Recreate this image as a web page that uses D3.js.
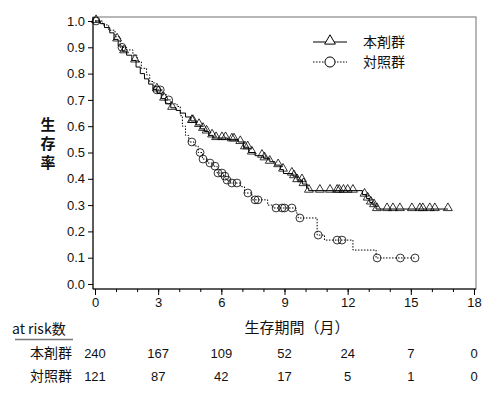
<!DOCTYPE html>
<html lang="ja">
<head>
<meta charset="UTF-8">
<script src="https://d3js.org/d3.v7.min.js"></script>
<style>
  body { margin: 0; background: #fff; }
  text { font-family: "Liberation Sans", Arial, sans-serif; fill: #111; }
  .jp { font-family: "Noto Sans CJK JP", sans-serif; }
</style>
</head>
<body>
<script>
// step points [month, survival after the step]
var drugSteps = [
  [0, 1.0], [0.25, 0.99], [0.45, 0.975], [0.7, 0.955], [0.9, 0.93], [1.1, 0.905],
  [1.3, 0.885], [1.5, 0.87], [1.75, 0.85], [1.95, 0.825], [2.15, 0.80], [2.35, 0.78],
  [2.55, 0.76], [2.75, 0.74], [2.95, 0.725], [3.15, 0.705], [3.35, 0.685], [3.6, 0.67],
  [3.85, 0.66], [4.05, 0.65], [4.3, 0.635], [4.55, 0.62], [4.8, 0.605], [5.0, 0.59],
  [5.2, 0.58], [5.4, 0.565], [5.6, 0.555], [6.3, 0.55], [6.8, 0.54], [7.05, 0.52],
  [7.3, 0.50], [7.6, 0.488], [8.0, 0.478], [8.3, 0.465], [8.55, 0.452], [8.8, 0.435],
  [8.95, 0.42], [9.4, 0.41], [9.6, 0.395], [9.85, 0.38], [10.05, 0.365], [10.15, 0.355],
  [12.7, 0.34], [12.9, 0.325], [13.05, 0.31], [13.2, 0.30], [13.35, 0.285], [16.76, 0.285]
];
var drugCensor = [
  0.05, 1.05, 1.38, 1.9, 2.94, 3.28, 3.66, 4.6, 4.65, 4.94, 5.13, 5.3, 5.56, 5.75,
  6.03, 6.2, 6.5, 6.6, 6.9, 7.12, 7.25, 7.45, 7.93, 8.05, 8.3, 8.7, 8.93, 9.35, 9.45,
  9.6, 9.83, 9.9, 10.16, 10.68, 11.16, 11.5, 11.6, 11.8, 12.0, 12.25, 12.8, 12.95,
  13.1, 13.25, 13.39, 13.87, 14.15, 14.48, 15.05, 15.43, 15.57, 15.9, 16.14, 16.76
];
var ctrlSteps = [
  [0, 1.0], [0.35, 0.985], [0.65, 0.965], [0.95, 0.94], [1.2, 0.9], [1.5, 0.89],
  [1.8, 0.87], [2.0, 0.845], [2.2, 0.82], [2.45, 0.795], [2.6, 0.77], [2.8, 0.75],
  [2.92, 0.738], [3.2, 0.72], [3.4, 0.70], [3.6, 0.685], [3.9, 0.675], [4.05, 0.64],
  [4.15, 0.60], [4.3, 0.565], [4.45, 0.54], [4.7, 0.525], [4.9, 0.50], [5.1, 0.475],
  [5.35, 0.46], [5.6, 0.448], [5.8, 0.422], [6.1, 0.41], [6.22, 0.395], [6.4, 0.384],
  [6.9, 0.37], [7.1, 0.346], [7.45, 0.32], [8.2, 0.30], [8.45, 0.289], [9.55, 0.27],
  [9.65, 0.251], [10.55, 0.186], [10.9, 0.167], [12.25, 0.129], [13.35, 0.099], [15.2, 0.099]
];
var ctrlCensor = [
  0.05, 1.28, 2.94, 3.1, 3.5, 4.6, 4.99, 5.13, 5.46, 5.7, 5.84, 6.03, 6.17, 6.27,
  6.5, 6.74, 7.26, 7.6, 7.74, 8.6, 8.88, 9.0, 9.35, 9.73, 10.6, 11.5, 11.73, 13.4, 14.5, 15.2
];

var groups = ["本剤群", "対照群"];
var riskTimes = [0, 3, 6, 9, 12, 15, 18];
var riskDrug = [240, 167, 109, 52, 24, 7, 0];
var riskCtrl = [121, 87, 42, 17, 5, 1, 0];
var xTicks = [0, 3, 6, 9, 12, 15, 18];
var yTicks = [0, 0.1, 0.2, 0.3, 0.4, 0.5, 0.6, 0.7, 0.8, 0.9, 1.0];

var W = 497, H = 398;
var svg = d3.select("body").append("svg").attr("width", W).attr("height", H);

var x = d3.scaleLinear().domain([0, 18]).range([95, 474]);
var y = d3.scaleLinear().domain([0, 1]).range([284, 21]);
var frame = {l: 93, t: 17, r: 476, b: 289};

// frame
svg.append("rect")
  .attr("x", frame.l).attr("y", frame.t)
  .attr("width", frame.r - frame.l).attr("height", frame.b - frame.t)
  .attr("fill", "none").attr("stroke", "#888").attr("stroke-width", 1.2);
svg.append("line").attr("x1", frame.l).attr("x2", frame.l).attr("y1", frame.t).attr("y2", frame.b)
  .attr("stroke", "#000");
svg.append("line").attr("x1", frame.l).attr("x2", frame.r).attr("y1", frame.b).attr("y2", frame.b)
  .attr("stroke", "#000");

// y axis
var yAxis = svg.append("g").attr("transform", "translate(" + frame.l + ",0)")
  .call(d3.axisLeft(y).tickValues(yTicks).tickFormat(d3.format(".1f")).tickSize(5).tickPadding(3));
yAxis.select(".domain").remove();
yAxis.selectAll("text").style("font-size", "13px");

// x axis, minor then major
var xMinor = svg.append("g").attr("transform", "translate(0," + frame.b + ")")
  .call(d3.axisBottom(x).tickValues(d3.range(0, 19)).tickFormat("").tickSize(3));
xMinor.select(".domain").remove();
var xAxis = svg.append("g").attr("transform", "translate(0," + frame.b + ")")
  .call(d3.axisBottom(x).tickValues(xTicks).tickSize(6).tickPadding(3));
xAxis.select(".domain").remove();
xAxis.selectAll("text").style("font-size", "13px");

// titles
svg.append("text").attr("class", "jp")
  .attr("x", 297).attr("y", 333).attr("text-anchor", "middle")
  .style("font-size", "15px").text("生存期間（月）");
svg.append("text").attr("class", "jp")
  .attr("x", 48).attr("y", 130).attr("text-anchor", "middle")
  .style("font-size", "15px").style("font-weight", "bold")
  .selectAll("tspan").data(["生", "存", "率"]).enter().append("tspan")
  .attr("x", 48).attr("dy", function(d, i) { return i === 0 ? 0 : 19; })
  .text(function(d) { return d; });

function survAt(steps, t) {
  var s = steps[0][1];
  steps.forEach(function(p) { if (p[0] <= t) s = p[1]; });
  return s;
}

var line = d3.line().x(function(d) { return x(d[0]); }).y(function(d) { return y(d[1]); })
  .curve(d3.curveStepAfter);

svg.append("path").datum(ctrlSteps).attr("d", line)
  .attr("fill", "none").attr("stroke", "#000").attr("stroke-width", 1)
  .attr("stroke-dasharray", "1.5,1.5");
svg.append("path").datum(drugSteps).attr("d", line)
  .attr("fill", "none").attr("stroke", "#000").attr("stroke-width", 1);

var tri = d3.symbol().type(d3.symbolTriangle).size(34);
var circ = d3.symbol().type(d3.symbolCircle).size(48);

svg.append("g").selectAll("path").data(ctrlCensor).enter().append("path")
  .attr("d", circ)
  .attr("transform", function(d) { return "translate(" + x(d) + "," + y(survAt(ctrlSteps, d)) + ")"; })
  .attr("fill", "none").attr("stroke", "#000").attr("stroke-width", 0.8);
svg.append("g").selectAll("path").data(drugCensor).enter().append("path")
  .attr("d", tri)
  .attr("transform", function(d) { return "translate(" + x(d) + "," + (y(survAt(drugSteps, d)) - 1) + ")"; })
  .attr("fill", "none").attr("stroke", "#000").attr("stroke-width", 0.8);

// legend
var leg = svg.append("g");
[0, 1].forEach(function(i) {
  var ly = 42 + i * 20;
  leg.append("line").attr("x1", 313).attr("x2", 347).attr("y1", ly).attr("y2", ly)
    .attr("stroke", "#000").attr("stroke-dasharray", i === 1 ? "1.5,1.5" : null);
  leg.append("path").attr("d", i === 0 ? d3.symbol().type(d3.symbolTriangle).size(50)() : d3.symbol().type(d3.symbolCircle).size(80)())
    .attr("transform", "translate(330," + (ly - (i === 0 ? 1 : 0)) + ")")
    .attr("fill", "#fff").attr("stroke", "#000");
  leg.append("text").attr("class", "jp").attr("x", 363).attr("y", ly + 5)
    .style("font-size", "14px").text(groups[i]);
});

// at risk table
svg.append("text").attr("class", "jp").attr("x", 12).attr("y", 334)
  .style("font-size", "14px").text("at risk数");
svg.append("line").attr("x1", 15).attr("x2", 73).attr("y1", 339.5).attr("y2", 339.5)
  .attr("stroke", "#777").attr("stroke-width", 1.5);
[riskDrug, riskCtrl].forEach(function(row, i) {
  var ry = 358 + i * 23;
  svg.append("text").attr("class", "jp").attr("x", 72).attr("y", ry)
    .attr("text-anchor", "end").style("font-size", "14px").text(groups[i]);
  svg.append("g").selectAll("text").data(row).enter().append("text")
    .attr("x", function(d, j) { return x(riskTimes[j]); }).attr("y", ry)
    .attr("text-anchor", "middle").style("font-size", "13px")
    .text(function(d) { return d; });
});
</script>
</body>
</html>
